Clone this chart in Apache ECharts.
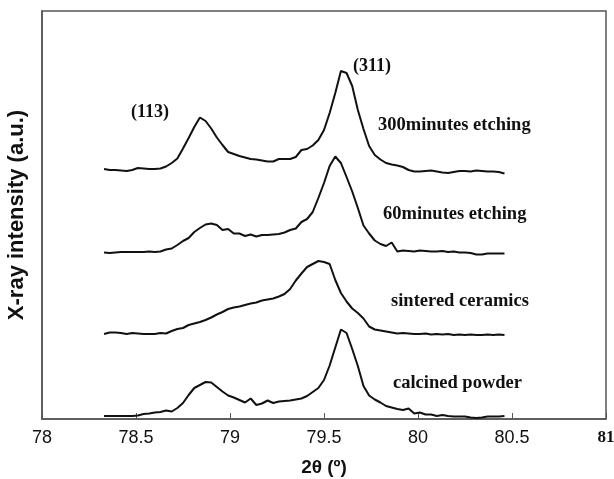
<!DOCTYPE html>
<html>
<head>
<meta charset="utf-8">
<title>XRD (113)/(311) peaks</title>
<script src="https://cdn.jsdelivr.net/npm/echarts@6/dist/echarts.min.js"></script>
<style>
  html, body { margin: 0; padding: 0; background: #fff; }
  #chart { width: 614px; height: 479px; }
</style>
</head>
<body>
<div id="chart"></div>
<script>
// 2-theta sample positions shared by all four patterns
const twoTheta = [
  78.33, 78.36, 78.39, 78.42, 78.45, 78.48, 78.51, 78.54, 78.57, 78.60,
  78.63, 78.66, 78.69, 78.72, 78.75, 78.78, 78.81, 78.84, 78.87, 78.90,
  78.93, 78.96, 78.99, 79.02, 79.05, 79.08, 79.11, 79.14, 79.17, 79.20,
  79.23, 79.26, 79.29, 79.32, 79.35, 79.38, 79.41, 79.44, 79.47, 79.50,
  79.53, 79.56, 79.59, 79.62, 79.65, 79.68, 79.71, 79.74, 79.77, 79.80,
  79.83, 79.86, 79.89, 79.92, 79.95, 79.98, 80.01, 80.04, 80.07, 80.10,
  80.13, 80.16, 80.19, 80.22, 80.25, 80.28, 80.31, 80.34, 80.37, 80.40,
  80.43, 80.46
]

// intensities (a.u.), already stacked with their vertical offsets
const etch300 = [
  250, 249, 249, 248.5, 248, 249, 251, 250.5, 250, 250,
  250.5, 252.5, 256, 260.5, 270.5, 281, 292, 301.5, 298, 290.5,
  281.5, 274, 267, 265, 263, 261.5, 260, 259.5, 258.5, 257.5,
  257.5, 260, 260, 260, 262, 269, 270, 273.5, 279, 289,
  306, 326, 348, 346, 333, 309, 290, 273, 264, 259.5,
  256, 254.5, 253.5, 252, 249, 247.5, 247.5, 248, 248.5, 247.5,
  246.5, 246, 247, 248, 248, 247.5, 248.5, 248, 247.5, 247.5,
  247, 245.5
]
const etch60 = [
  166.5, 166, 166.5, 167, 167, 167, 167, 167, 167.5, 167,
  167.5, 169.5, 170.5, 174, 178, 181, 187, 191, 194.5, 195.5,
  194, 189, 190, 185.5, 185.5, 183, 184.5, 182.5, 184, 184,
  184.5, 185, 186.5, 189, 190.5, 197, 200, 207, 221, 236,
  253, 262.5, 256, 242, 227.5, 211, 193.5, 185.5, 178.5, 175,
  173, 176.5, 167.5, 168.5, 168, 167.5, 168.5, 168, 167.5, 167.5,
  168, 167, 167.5, 166.5, 166.5, 166, 164.5, 164.5, 165.5, 165.5,
  165.5, 165.5
]
const sintered = [
  85, 86.5, 86.5, 86, 85, 86, 85.5, 85, 85, 85,
  86, 85.5, 88, 90, 91, 94, 95.5, 97, 99, 101.5,
  104.5, 107, 110, 111.5, 112.5, 114, 115.5, 116.5, 118.5, 119.5,
  120.5, 122.5, 125, 130, 138.5, 145.5, 152, 155, 158, 157,
  155, 139, 126, 117.5, 110.5, 106, 100.5, 92.5, 89.5, 88.5,
  87.5, 86.5, 85.5, 86, 85.5, 85, 85, 85.5, 84.5, 85,
  84.5, 85, 84, 84.5, 84, 84.5, 84, 84, 84.5, 84,
  84.5, 84
]
const calcined = [
  3, 3, 3, 3, 3, 3, 3.5, 5, 5.5, 6.5,
  7, 8.5, 7.5, 11, 16, 24, 31, 34, 37, 36.5,
  32, 27.5, 23.5, 21.5, 19, 16.5, 20.5, 14, 15.5, 18.5,
  16, 17.5, 18, 18.5, 19.5, 20.5, 23, 27, 31, 39,
  53.5, 71.5, 89.5, 86, 70, 53, 33, 23.5, 19.5, 16.5,
  13, 11.5, 10, 9, 10.5, 5.5, 6.5, 4.5, 4.5, 3,
  4, 3, 2.5, 2.5, 2.5, 1.5, 1, 1.5, 2.5, 2.5,
  2.5, 3
]

const seriesNames = ['300minutes etching', '60minutes etching', 'sintered ceramics', 'calcined powder']
const seriesValues = [etch300, etch60, sintered, calcined]
const xTicks = ['78', '78.5', '79', '79.5', '80', '80.5', '81']

const INK = '#111111'
const FRAME = '#555555'
const SERIF = '"Liberation Serif", "Times New Roman", serif'
const SANS = '"Liberation Sans", Arial, sans-serif'

const chart = echarts.init(document.getElementById('chart'), null, { renderer: 'canvas' })

function caption(text, x, y, size) {
  return {
    type: 'text',
    x: x,
    y: y,
    style: {
      text: text,
      fill: INK,
      font: 'bold ' + size + 'px ' + SERIF,
      verticalAlign: 'middle',
      align: 'left'
    }
  }
}

const option = {
  backgroundColor: '#ffffff',
  animation: false,
  grid: {
    left: 42,
    right: 8,
    top: 11,
    bottom: 60,
    outerBoundsMode: 'none',
    containLabel: false,
    show: true,
    borderColor: FRAME,
    borderWidth: 1.5
  },
  xAxis: {
    type: 'value',
    min: 78,
    max: 81,
    interval: 0.5,
    name: '2θ (º)',
    nameLocation: 'middle',
    nameGap: 39,
    nameTextStyle: { color: INK, fontFamily: SANS, fontWeight: 'bold', fontSize: 19 },
    axisLine: { show: true, onZero: false, lineStyle: { color: FRAME, width: 1.5 } },
    axisTick: { show: true, inside: true, length: 6, lineStyle: { color: FRAME, width: 1 } },
    splitLine: { show: false },
    axisLabel: {
      margin: 10,
      color: INK,
      fontFamily: SANS,
      fontSize: 18,
      showMinLabel: true,
      showMaxLabel: true,
      formatter: function (v) {
        const label = xTicks.find(t => Math.abs(parseFloat(t) - v) < 1e-6) || String(v)
        return label === '81' ? '{last|81}' : label
      },
      rich: {
        last: { fontFamily: SERIF, fontWeight: 'bold', fontSize: 17, color: INK }
      }
    }
  },
  yAxis: {
    type: 'value',
    min: 0,
    max: 408,
    name: 'X-ray intensity (a.u.)',
    nameLocation: 'middle',
    nameGap: 14,
    nameTextStyle: { color: INK, fontFamily: SANS, fontWeight: 'bold', fontSize: 22 },
    axisLine: { show: true, lineStyle: { color: FRAME, width: 1.5 } },
    axisTick: { show: false },
    axisLabel: { show: false },
    splitLine: { show: false }
  },
  series: seriesValues.map((vals, k) => ({
    name: seriesNames[k],
    type: 'line',
    showSymbol: false,
    smooth: false,
    lineStyle: { color: INK, width: 2 },
    itemStyle: { color: INK },
    data: vals.map((v, i) => [twoTheta[i], v])
  })),
  graphic: [
    caption('(311)', 353, 66, 18),
    caption('(113)', 131, 112, 18),
    caption(seriesNames[0], 378, 125, 18.5),
    caption(seriesNames[1], 383, 214, 18.5),
    caption(seriesNames[2], 391, 301, 18.5),
    caption(seriesNames[3], 393, 383, 18.5)
  ]
}

chart.setOption(option)
window.addEventListener('resize', () => chart.resize())
</script>
</body>
</html>
